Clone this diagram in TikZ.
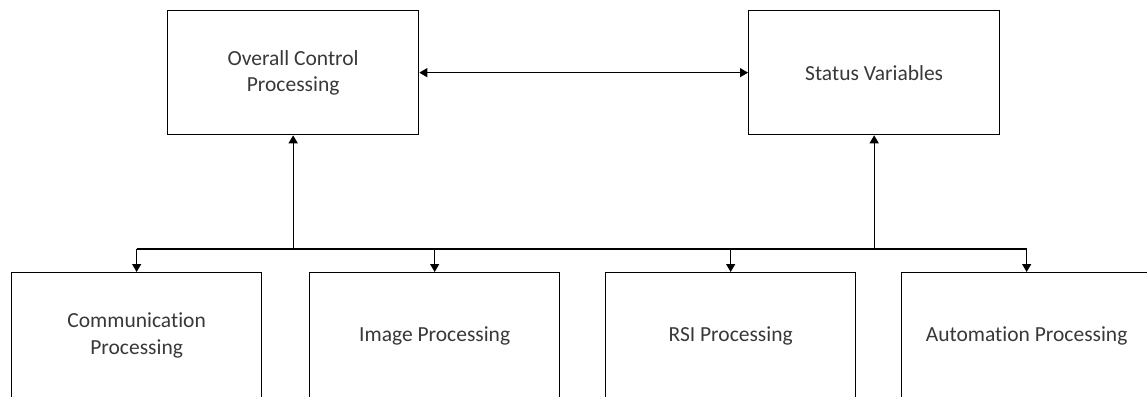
\documentclass[tikz,border=0pt]{standalone}
\usepackage{fontspec}
\setmainfont[RawFeature=-liga]{Carlito}
\usetikzlibrary{arrows.meta}
\begin{document}
\begin{tikzpicture}[x=1pt,y=-1pt,
  box/.style={draw=black, line width=1.3pt, anchor=north west, inner sep=0pt,
    align=center, text=black!78, font=\fontsize{21.5}{26.5}\selectfont},
  topbox/.style={box, minimum width=251pt, minimum height=124pt},
  botbox/.style={box, minimum width=250pt, minimum height=126pt},
  link/.style={line width=1.3pt},
  arr/.style={line width=1.3pt, -{Triangle[length=8pt,width=9pt]}},
  darr/.style={line width=1.3pt, {Triangle[length=8pt,width=9pt]}-{Triangle[length=8pt,width=9pt]}}]
\useasboundingbox (0,0) rectangle (1147,396);
\node[topbox] (ocp) at (167,10) {Overall Control\\Processing};
\node[topbox] (sv) at (748,10) {Status Variables};
\node[botbox] (comm) at (11,272) {Communication\\Processing};
\node[botbox] (img) at (309,272) {Image Processing};
\node[botbox] (rsi) at (605,272) {RSI Processing};
\node[botbox] (auto) at (901,272) {Automation Processing};
\coordinate (bus) at (0,249);
\draw[darr] (ocp.east) -- (sv.west);
\draw[link] (comm.north |- bus) -- (auto.north |- bus);
\draw[arr] (ocp.south |- bus) -- (ocp.south);
\draw[arr] (sv.south |- bus) -- (sv.south);
\foreach \n in {comm,img,rsi,auto} \draw[arr] (\n.north |- bus) -- (\n.north);
\end{tikzpicture}
\end{document}
